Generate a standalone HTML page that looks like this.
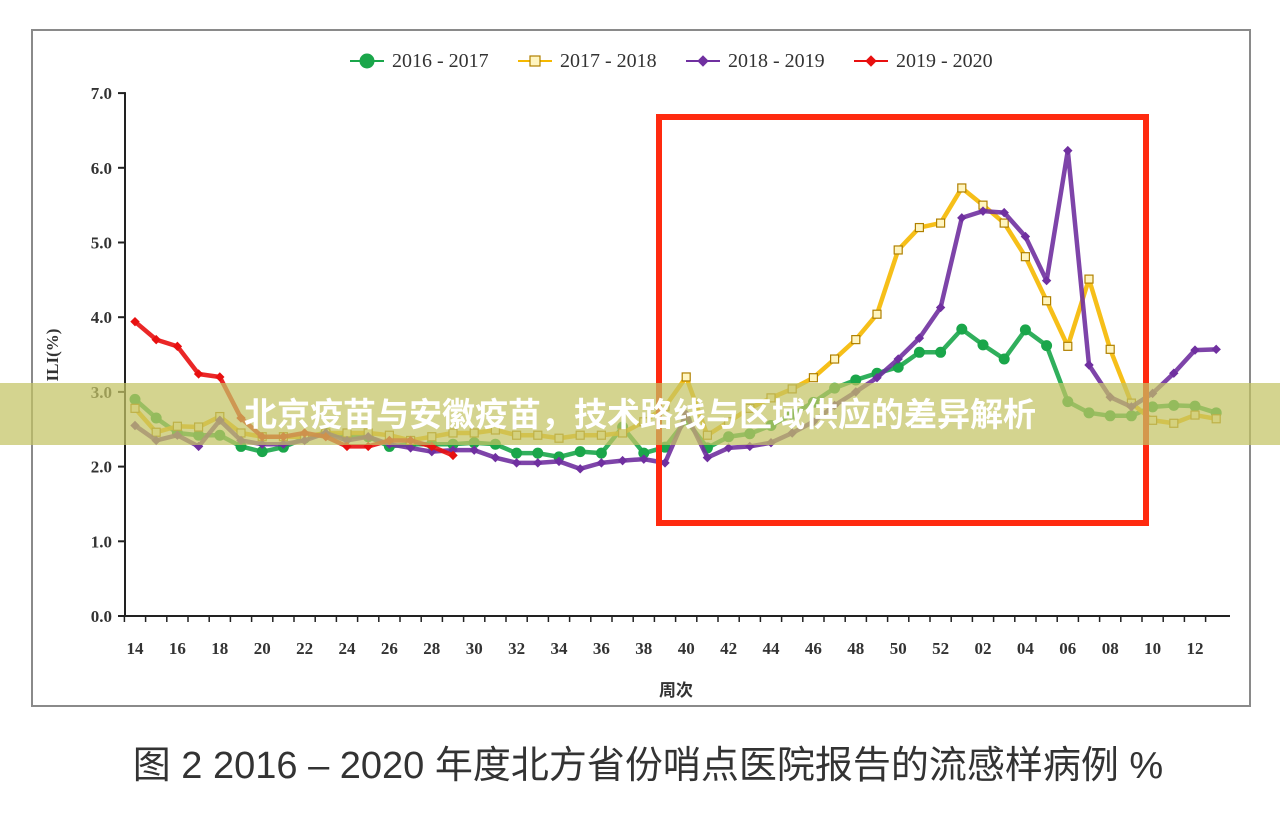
<!DOCTYPE html>
<html><head><meta charset="utf-8"><style>
html,body{margin:0;padding:0;background:#fff;width:1280px;height:828px;overflow:hidden}
svg{display:block}
</style></head><body>
<svg id="chart" width="1280" height="828" xmlns="http://www.w3.org/2000/svg">
<rect x="32" y="30" width="1218" height="676" fill="#fff" stroke="#8a8a8a" stroke-width="2"/>
<g id="axes"></g>
<g id="series"></g>
<g id="legend"></g>
<rect x="659" y="117" width="487" height="406" fill="none" stroke="#ff2a0f" stroke-width="6"/>
<rect x="0" y="383" width="1280" height="62" fill="rgba(196,196,100,0.72)"/>
<text x="640" y="426" text-anchor="middle" font-family="'Liberation Sans','Noto Sans CJK SC',sans-serif" font-weight="bold" font-size="33" fill="#fff">北京疫苗与安徽疫苗，技术路线与区域供应的差异解析</text>
<text x="648" y="778" text-anchor="middle" font-family="'Liberation Sans','Noto Sans CJK SC',sans-serif" font-size="38" fill="#333">图 2  2016 – 2020 年度北方省份哨点医院报告的流感样病例 %</text>
</svg>
<script>
const weeks = ["14","15","16","17","18","19","20","21","22","23","24","25","26","27","28","29","30","31","32","33","34","35","36","37","38","39","40","41","42","43","44","45","46","47","48","49","50","51","52","01","02","03","04","05","06","07","08","09","10","11","12","13"];
const yTicks = [0,1,2,3,4,5,6,7];
const s1617 = [2.9,2.65,2.45,2.42,2.42,2.27,2.2,2.26,2.38,2.45,2.4,2.4,2.27,2.3,2.3,2.3,2.32,2.3,2.18,2.18,2.13,2.2,2.18,2.53,2.18,2.26,2.62,2.25,2.4,2.44,2.55,2.7,2.86,3.05,3.16,3.25,3.33,3.53,3.53,3.84,3.63,3.44,3.83,3.62,2.87,2.72,2.68,2.68,2.8,2.82,2.81,2.72];
const s1718 = [2.78,2.46,2.54,2.53,2.67,2.45,2.4,2.4,2.4,2.45,2.45,2.45,2.42,2.35,2.4,2.45,2.45,2.49,2.42,2.42,2.38,2.42,2.42,2.45,2.6,2.8,3.2,2.42,2.6,2.78,2.92,3.04,3.19,3.44,3.7,4.04,4.9,5.2,5.26,5.73,5.5,5.26,4.81,4.22,3.61,4.51,3.57,2.85,2.62,2.58,2.69,2.64];
const s1819 = [2.55,2.35,2.42,2.27,2.62,2.35,2.3,2.3,2.35,2.45,2.35,2.4,2.3,2.25,2.2,2.22,2.22,2.12,2.05,2.05,2.07,1.97,2.05,2.08,2.1,2.05,2.7,2.12,2.25,2.27,2.32,2.45,2.6,2.82,3.0,3.19,3.44,3.72,4.13,5.33,5.42,5.4,5.08,4.49,6.23,3.36,2.93,2.8,2.98,3.25,3.56,3.57];
const s1920 = [3.94,3.7,3.61,3.24,3.2,2.65,2.4,2.4,2.45,2.4,2.27,2.27,2.35,2.35,2.27,2.15];
const NS="http://www.w3.org/2000/svg";
const X0=135, DX=21.2, Y0=616, DY=74.7;
function xs(i){return X0+i*DX;}
function ys(v){return Y0-v*DY;}
function mk(tag,attrs,parent){const e=document.createElementNS(NS,tag);for(const k in attrs)e.setAttribute(k,attrs[k]);parent.appendChild(e);return e;}
const axes=document.getElementById('axes');
const serif="'Liberation Serif',serif";
let a=mk('line',{x1:125,y1:ys(7)-1,x2:125,y2:Y0,stroke:'#222','stroke-width':2},axes);


a=mk('line',{x1:125,y1:Y0,x2:1230,y2:Y0,stroke:'#222','stroke-width':2},axes);


yTicks.forEach(v=>{
  mk('line',{x1:118,y1:ys(v),x2:125,y2:ys(v),stroke:'#222','stroke-width':2},axes);
  const t=mk('text',{x:112,y:ys(v)+6,'text-anchor':'end','font-family':serif,'font-weight':'bold','font-size':17,fill:'#333'},axes);
  t.textContent=v.toFixed(1);
  
  
});
weeks.forEach((w,i)=>{
  mk('line',{x1:xs(i)-DX/2,y1:Y0,x2:xs(i)-DX/2,y2:Y0+6,stroke:'#222','stroke-width':1.5},axes);
  if(i%2===0){
    const t=mk('text',{x:xs(i),y:654,'text-anchor':'middle','font-family':serif,'font-weight':'bold','font-size':17,fill:'#333'},axes);
    t.textContent=w;
    
    
  }
});
let t=mk('text',{x:676,y:696,'text-anchor':'middle','font-family':"'Liberation Sans','Noto Sans CJK SC',sans-serif",'font-weight':'bold','font-size':17,fill:'#333'},axes);
t.textContent='周次';


t=mk('text',{x:0,y:0,'text-anchor':'middle','font-family':serif,'font-weight':'bold','font-size':17,fill:'#333',transform:'translate(58,355) rotate(-90)'},axes);
t.textContent='ILI(%)';



const seriesDefs=[
 {data:s1617,color:'#1aa64a',mark:'circle',name:'series-2016-2017',label:'2016 - 2017'},
 {data:s1718,color:'#f5b800',mark:'square',name:'series-2017-2018',label:'2017 - 2018'},
 {data:s1819,color:'#7030a0',mark:'diamond',name:'series-2018-2019',label:'2018 - 2019'},
 {data:s1920,color:'#e81010',mark:'diamond',name:'series-2019-2020',label:'2019 - 2020'}
];
function marker(g,type,x,y,color,r){
  let m;
  if(type==='circle') m=mk('circle',{cx:x,cy:y,r:r,fill:color,stroke:color},g);
  else if(type==='square') m=mk('rect',{x:x-r,y:y-r,width:2*r,height:2*r,fill:'#fff5c0',stroke:'#b08000','stroke-width':1.2},g);
  else m=mk('polygon',{points:`${x},${y-r} ${x+r},${y} ${x},${y+r} ${x-r},${y}`,fill:color,stroke:color},g);
  return m;
}
const sg=document.getElementById('series');
seriesDefs.forEach(s=>{
  const g=mk('g',{},sg);
  
  
  const pts=s.data.map((v,i)=>xs(i)+','+ys(v)).join(' ');
  const pl=mk('polyline',{points:pts,fill:'none',stroke:s.color,'stroke-width':4.5,'stroke-linejoin':'round','stroke-opacity':0.9},g);
  
  
  s.data.forEach((v,i)=>{
    const m=marker(g,s.mark,xs(i),ys(v),s.color,s.mark==='circle'?5:4);
    
    
  });
});
const lg=document.getElementById('legend');
const lx=[350,518,686,854];
seriesDefs.forEach((s,k)=>{
  const g=mk('g',{},lg);
  
  
  mk('line',{x1:lx[k],y1:61,x2:lx[k]+34,y2:61,stroke:s.color,'stroke-width':2},g);
  marker(g,s.mark,lx[k]+17,61,s.color,s.mark==='circle'?7:5);
  const tt=mk('text',{x:lx[k]+42,y:67,'font-family':serif,'font-size':20,fill:'#333'},g);
  tt.textContent=s.label;
});
</script>
</body></html>
